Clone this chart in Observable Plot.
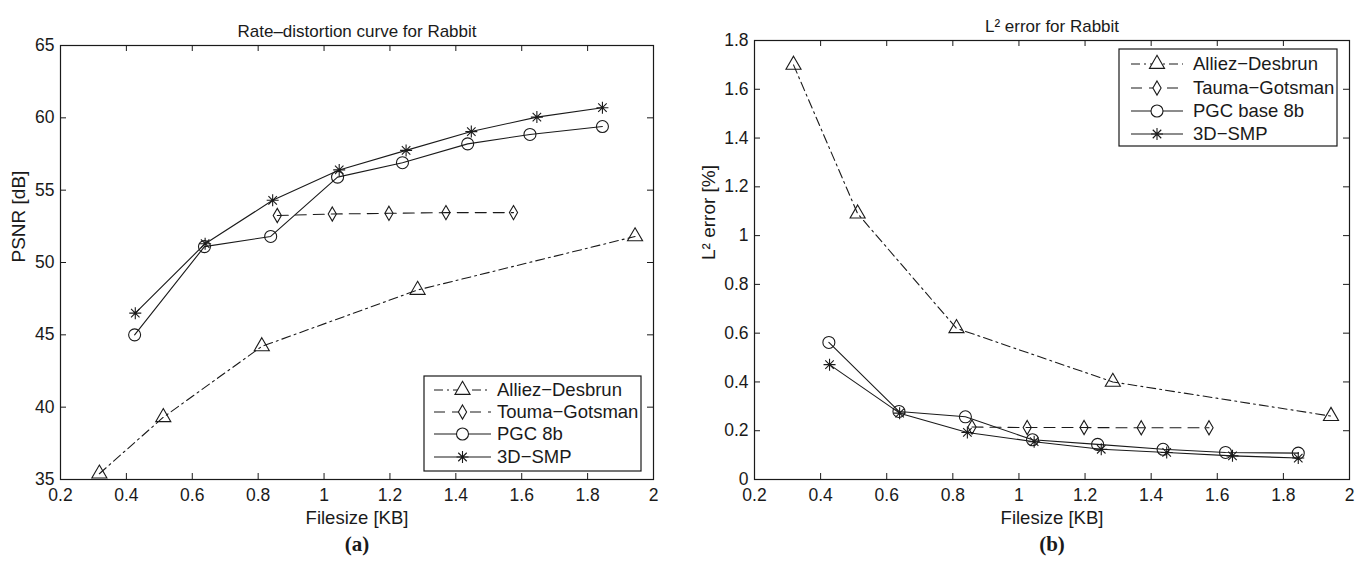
<!DOCTYPE html>
<html><head><meta charset="utf-8">
<script src="https://cdn.jsdelivr.net/npm/d3@7"></script>
<script src="https://cdn.jsdelivr.net/npm/@observablehq/plot@0.6"></script>
<style>
body{margin:0;background:#fff}
#root{position:relative;width:1368px;height:570px;overflow:hidden;font-family:"Liberation Sans",Arial,sans-serif}
.panel{position:absolute;top:0}
#legend{position:absolute;left:0;top:0;pointer-events:none}
</style></head>
<body><div id="root"></div>
<script>
// ---- data ----
const seriesNamesA = ["Alliez\u2212Desbrun","Touma\u2212Gotsman","PGC 8b","3D\u2212SMP"];
const seriesNamesB = ["Alliez\u2212Desbrun","Tauma\u2212Gotsman","PGC base 8b","3D\u2212SMP"];

const alliezX   = [0.318, 0.512, 0.811, 1.284, 1.944];
const alliezPSNR= [35.4, 39.3, 44.2, 48.1, 51.8];
const alliezL2  = [1.70, 1.09, 0.62, 0.40, 0.26];

const toumaX    = [0.858, 1.025, 1.197, 1.370, 1.575];
const toumaPSNR = [53.25, 53.35, 53.4, 53.45, 53.45];
const toumaL2   = [0.215, 0.213, 0.213, 0.212, 0.212];

const pgcX      = [0.425, 0.637, 0.838, 1.041, 1.238, 1.436, 1.625, 1.845];
const pgcPSNR   = [45.0, 51.1, 51.8, 55.9, 56.9, 58.2, 58.85, 59.4];
const pgcL2     = [0.562, 0.279, 0.257, 0.163, 0.144, 0.124, 0.111, 0.108];

const smpX      = [0.427, 0.639, 0.844, 1.046, 1.249, 1.447, 1.646, 1.845];
const smpPSNR   = [46.5, 51.3, 54.3, 56.4, 57.75, 59.05, 60.05, 60.7];
const smpL2     = [0.471, 0.272, 0.193, 0.155, 0.124, 0.111, 0.097, 0.088];

const xTicks    = [0.2, 0.4, 0.6, 0.8, 1, 1.2, 1.4, 1.6, 1.8, 2];
const psnrTicks = [35, 40, 45, 50, 55, 60, 65];
const l2Ticks   = [0, 0.2, 0.4, 0.6, 0.8, 1, 1.2, 1.4, 1.6, 1.8];

// ---- styling ----
const FONT = '"Liberation Sans", Arial, Helvetica, sans-serif';
const INK = "#1a1a1a";
const star = {draw(ctx, size){
  const r = Math.sqrt(size/Math.PI), d = r*Math.SQRT1_2;
  ctx.moveTo(0,-r);ctx.lineTo(0,r);ctx.moveTo(-r,0);ctx.lineTo(r,0);
  ctx.moveTo(-d,-d);ctx.lineTo(d,d);ctx.moveTo(-d,d);ctx.lineTo(d,-d);
}};
const styles = [
  {symbol:"triangle", r:5.6, dash:"9,4,2,4"},
  {symbol:"diamond",  r:4.3, dash:"11,7"},
  {symbol:"circle",   r:6,   dash:null},
  {symbol:star,       r:6,   dash:null}
];

function rows(xs, ys){ return xs.map((x,i)=>({x, y: ys[i]})); }

const W = 684, H = 570;
function panel(o){
  const innerH = H - o.mt - o.mb, innerW = W - o.ml - o.mr, tk = 6;
  const marks = [
    Plot.ruleX(xTicks, {insetTop: innerH - tk, stroke: INK}),
    Plot.ruleX(xTicks, {insetBottom: innerH - tk, stroke: INK}),
    Plot.ruleY(o.yTicks, {insetLeft: innerW - tk, stroke: INK}),
    Plot.ruleY(o.yTicks, {insetRight: innerW - tk, stroke: INK}),
    Plot.frame({stroke: INK, strokeWidth: 1.2})
  ];
  o.series.forEach((s, i) => {
    const st = styles[i];
    marks.push(Plot.line(s, {x:"x", y:"y", stroke: INK, strokeWidth: 1.1, strokeDasharray: st.dash || undefined}));
  });
  o.series.forEach((s, i) => {
    const st = styles[i];
    marks.push(Plot.dot(s, {x:"x", y:"y", symbol: st.symbol, r: st.r, stroke: INK, fill: "none", strokeWidth: 1.1}));
  });
  marks.push(
    Plot.axisX(xTicks, {anchor:"bottom", tickSize:0, tickPadding:9, tickFormat: d => String(d), label: null, fontSize: 17.5, fill: INK}),
    Plot.axisY(o.yTicks, {anchor:"left", tickSize:0, tickPadding:6, tickFormat: d => String(d), label: null, fontSize: 17.5, fill: INK}),
    Plot.text([o.title], {frameAnchor:"top", dy:-21, fontSize:17, fill: INK}),
    Plot.text(["Filesize [KB]"], {frameAnchor:"bottom", dy:44, fontSize:18.5, fill: INK}),
    Plot.text([o.ylabel], {frameAnchor:"left", dx:o.ylabelDx, rotate:-90, fontSize:19, fill: INK}),
    Plot.text([o.tag], {frameAnchor:"bottom", dy:71, fontFamily:'"Liberation Serif", "Times New Roman", serif', fontWeight:"bold", fontSize:21, fill: INK})
  );
  const p = Plot.plot({
    width: W, height: H,
    marginLeft: o.ml, marginRight: o.mr, marginTop: o.mt, marginBottom: o.mb,
    style: {fontFamily: FONT, fontSize: "17.5px", color: INK, background: "transparent", overflow: "visible"},
    x: {type:"linear", domain:[0.2, 2], axis: null},
    y: {type:"linear", domain:o.yDomain, axis: null},
    marks
  });
  p.classList.add("panel");
  p.style.left = o.left + "px";
  return p;
}

const root = document.getElementById("root");
root.appendChild(panel({
  left: 0, ml: 60, mr: 31, mt: 45, mb: 91,
  yDomain: [35, 65], yTicks: psnrTicks,
  title: "Rate\u2013distortion curve for Rabbit", ylabel: "PSNR [dB]", ylabelDx: -42, tag: "(a)",
  series: [rows(alliezX, alliezPSNR), rows(toumaX, toumaPSNR), rows(pgcX, pgcPSNR), rows(smpX, smpPSNR)]
}));
root.appendChild(panel({
  left: 684, ml: 70, mr: 19, mt: 40, mb: 91,
  yDomain: [0, 1.8], yTicks: l2Ticks,
  title: "L\u00b2 error for Rabbit", ylabel: "L\u00b2 error [%]", ylabelDx: -46, tag: "(b)",
  series: [rows(alliezX, alliezL2), rows(toumaX, toumaL2), rows(pgcX, pgcL2), rows(smpX, smpL2)]
}));

// ---- legends ----
const lg = d3.select(root).append("svg").attr("id","legend").attr("width",1368).attr("height",570);
function legend(box, rowsY, lineX, textX, names){
  lg.append("rect").attr("x",box[0]).attr("y",box[1]).attr("width",box[2]).attr("height",box[3])
    .attr("fill","#fff").attr("stroke",INK).attr("stroke-width",1.2);
  names.forEach((name, i) => {
    const st = styles[i], y = rowsY[i];
    lg.append("line").attr("x1",lineX[0]).attr("x2",lineX[2]).attr("y1",y).attr("y2",y)
      .attr("stroke",INK).attr("stroke-width",1.1).attr("stroke-dasharray", st.dash);
    const sym = typeof st.symbol === "string" ? {triangle:d3.symbolTriangle, diamond:d3.symbolDiamond, circle:d3.symbolCircle}[st.symbol] : st.symbol;
    lg.append("path").attr("d", d3.symbol(sym, Math.PI*st.r*st.r)()).attr("transform",`translate(${lineX[1]},${y})`)
      .attr("fill","#fff").attr("stroke",INK).attr("stroke-width",1.1);
    lg.append("text").attr("x",textX).attr("y",y).attr("dy","0.35em").attr("font-family",FONT)
      .attr("font-size",18.5).attr("fill",INK).text(name);
  });
}
legend([424,376,217,95], [390,412,434,457], [434,462.5,491], 497, seriesNamesA);
legend([1119,49,218,97], [64,88,111,134], [1131,1157,1183], 1193, seriesNamesB);
</script></body></html>
